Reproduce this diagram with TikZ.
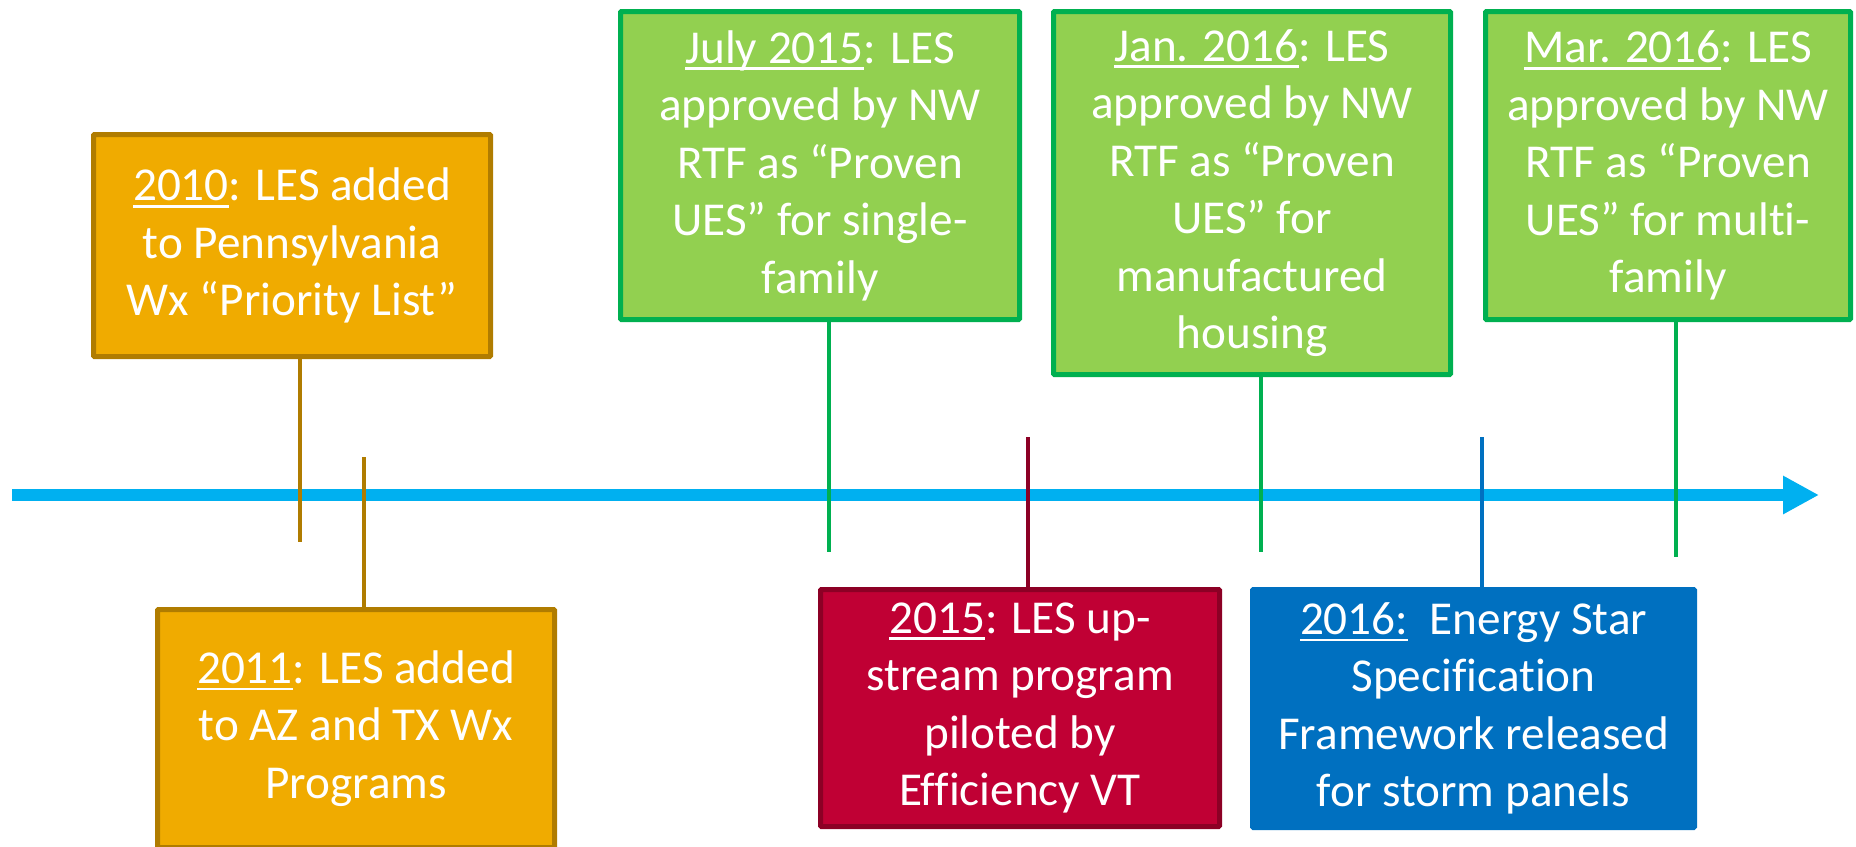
\documentclass[tikz,border=0pt]{standalone}
\usepackage{fontspec}
\setmainfont[Ligatures=NoCommon]{Carlito}
\usetikzlibrary{arrows.meta}
\definecolor{amberfill}{HTML}{F0AB00}
\definecolor{amberline}{HTML}{B07C00}
\definecolor{greenfill}{HTML}{92D050}
\definecolor{greenline}{HTML}{00B050}
\definecolor{redfill}{HTML}{C00034}
\definecolor{redline}{HTML}{8C0025}
\definecolor{bluefill}{HTML}{0070C0}
\definecolor{blueline}{HTML}{0070C0}
\definecolor{axiscol}{HTML}{00B0F0}
\newcommand{\yrline}[1]{\setbox0\hbox{#1}\rlap{\rule[-3.5pt]{\wd0}{1.4pt}}\box0}
\tikzset{
  event/.style={draw=#1line,fill=#1fill,line width=2.5pt,rounded corners=0.5pt,
    text=white,align=center,inner sep=0pt,
    font=\fontsize{23.6}{28.75}\selectfont},
  stem/.style={draw=#1line,line width=2pt}
}

\begin{document}
\begin{tikzpicture}[x=0.5pt,y=-0.5pt]
    \clip (0,0) rectangle (1856,846);

    \coordinate (start) at (12,495);
    \coordinate (end) at (1819,495);
    \draw [axiscol, line width=6pt, -{Triangle[length=18pt,width=18pt]}] (start) -- (end);

    \node [event=amber, minimum width=198.5pt, minimum height=111pt] (y2010) at (292,245.5)
      {\yrline{2010}: LES added\\to Pennsylvania\\Wx “Priority List”};
    \node [event=amber, minimum width=198.5pt, minimum height=119pt] (y2011) at (356,728.5)
      {\yrline{2011}: LES added\\to AZ and TX Wx\\Programs};
    \node [event=green, minimum width=199.5pt, minimum height=154pt] (jul15) at (820,165.5)
      {\yrline{July 2015}: LES\\approved by NW\\RTF as “Proven\\UES” for single-\\family};
    \node [event=green, minimum width=198.5pt, minimum height=181.5pt] (jan16) at (1252,193)
      {\yrline{Jan. 2016}: LES\\approved by NW\\RTF as “Proven\\UES” for\\manufactured\\housing};
    \node [event=green, minimum width=182.5pt, minimum height=154pt] (mar16) at (1668,165.5)
      {\yrline{Mar. 2016}: LES\\approved by NW\\RTF as “Proven\\UES” for multi-\\family};
    \node [event=red, minimum width=199.5pt, minimum height=118.5pt] (y2015) at (1020,708)
      {\yrline{2015}: LES up-\\stream program\\piloted by\\Efficiency VT};
    \node [event=blue, minimum width=221pt, minimum height=119pt] (y2016) at (1473.5,708.5)
      {\yrline{2016:}\ \ Energy Star\\Specification\\Framework released\\for storm panels};

    \coordinate (t2010) at (300,542);
    \coordinate (t2011) at (364,457);
    \coordinate (tjul15) at (829,552);
    \coordinate (tjan16) at (1261,552);
    \coordinate (tmar16) at (1676,557);
    \coordinate (t2015) at (1028,437);
    \coordinate (t2016) at (1482,437);

    \draw [stem=amber] (y2010.south -| t2010) -- (t2010);
    \draw [stem=amber] (t2011) -- (t2011 |- y2011.north);
    \draw [stem=green] (jul15.south -| tjul15) -- (tjul15);
    \draw [stem=green] (jan16.south -| tjan16) -- (tjan16);
    \draw [stem=green] (mar16.south -| tmar16) -- (tmar16);
    \draw [stem=red] (t2015) -- (t2015 |- y2015.north);
    \draw [stem=blue] (t2016) -- (t2016 |- y2016.north);
  \end{tikzpicture}
\end{document}
